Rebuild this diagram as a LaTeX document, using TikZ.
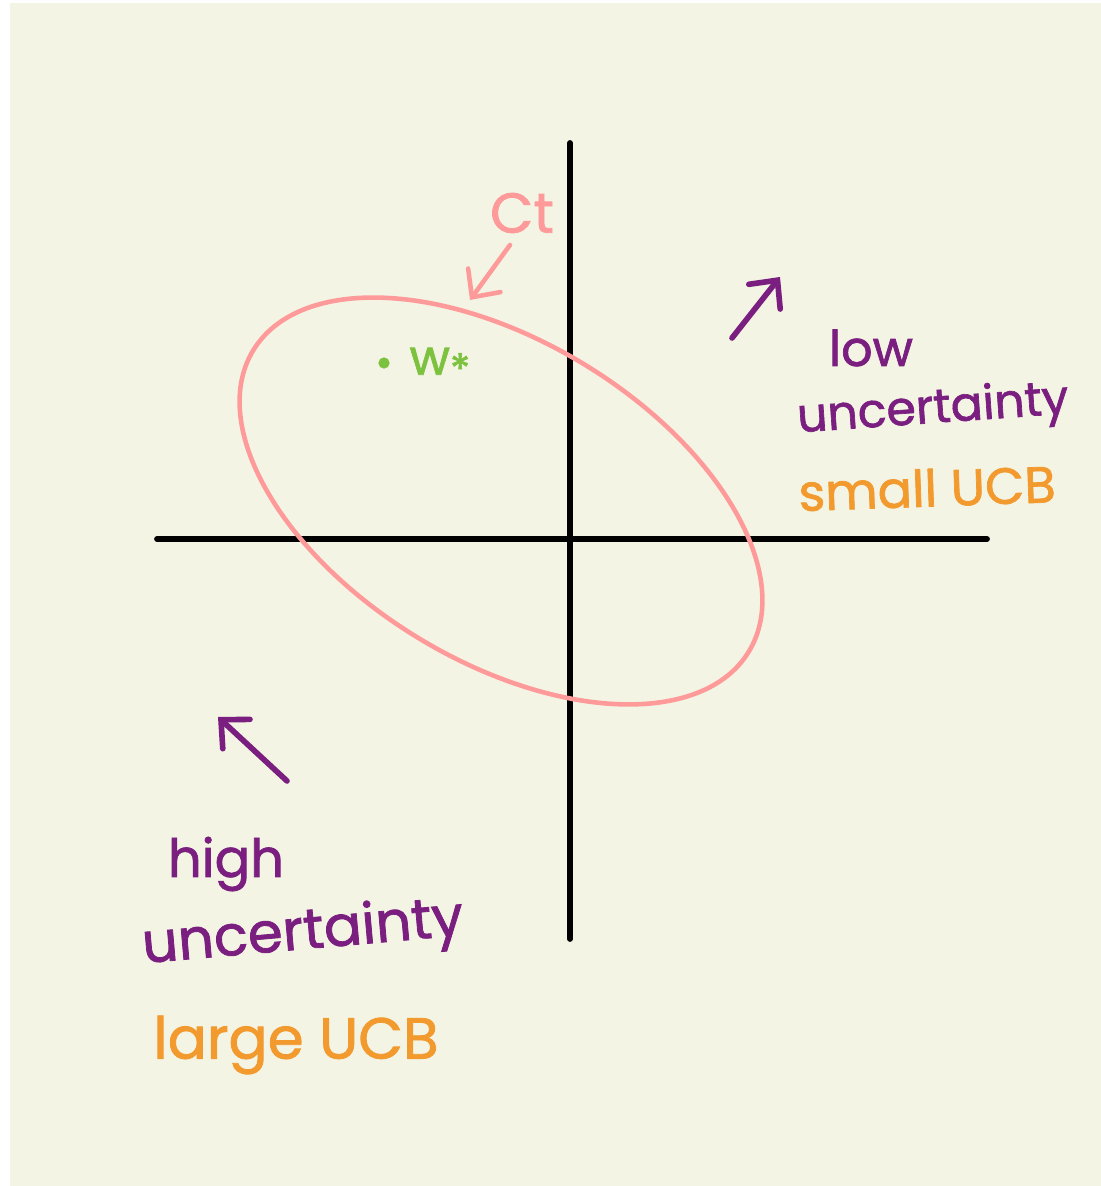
\documentclass[tikz,border=0pt]{standalone}
\usepackage{fontspec}
\setmainfont{Poppins}
\newfontfamily\handfont{Poppins}[FakeBold=1.4]
\usetikzlibrary{arrows.meta}
\definecolor{pcream}{HTML}{F3F4E3}
\definecolor{ppink}{HTML}{FF9A9A}
\definecolor{ppurple}{HTML}{7A1E80}
\definecolor{porange}{HTML}{F29A2E}
\definecolor{pgreen}{HTML}{7DC23F}

\begin{document}
\begin{tikzpicture}[x=0.02cm,y=0.02cm,line cap=round,
  hand/.style={font=\handfont\fontsize{#1}{#1}\selectfont,inner sep=0pt},
  hand/.default=28,
  barb/.style={-{Straight Barb[length=0.42cm,width=0.8cm,line cap=round]}}]
  \useasboundingbox (0,0) rectangle (1101,1186);
  \fill[pcream] (10,0) rectangle (1101,1183);
  % axes
  \coordinate (xl) at (157,647);
  \coordinate (xr) at (987,647);
  \coordinate (yb) at (570,247);
  \coordinate (yt) at (570,1043);
  \draw[black,line width=3.3pt] (xl) -- (xr);
  \draw[black,line width=3.3pt] (yb) -- (yt);
  % confidence set
  \draw[ppink,line width=2.6pt,rotate around={-31.3:(501,685)}]
    (501,685) ellipse [x radius=290,y radius=160];
  \node[hand=32,text=ppink] (ct) at (522,973) {Ct};
  \coordinate (ctfrom) at (510,941);
  \coordinate (ctto) at (470,886);
  \draw[ppink,line width=2.6pt,barb] (ctfrom) -- (ctto);
  \fill[pgreen] (384,823) circle (3.2pt) coordinate (wdot);
  \node[hand=28,text=pgreen] (wstar) at (440,820)
    {w\raisebox{-0.35ex}{\fontsize{24}{24}\selectfont *}};
  % directions
  \coordinate (nefrom) at (732,848);
  \coordinate (neto) at (780,909);
  \coordinate (nwfrom) at (287,405);
  \coordinate (nwto) at (218,469);
  \draw[ppurple,line width=3.2pt,barb] (nefrom) -- (neto);
  \draw[ppurple,line width=3.2pt,barb] (nwfrom) -- (nwto);
  \foreach \nm/\x/\y/\r/\s/\c/\t in {%
    low/871/838/0/28/ppurple/{low},
    uncr/933/775/4/27/ppurple/{uncertainty},
    small/927/698/2/29/porange/{small UCB},
    high/226/322/0/30/ppurple/{high},
    uncl/303/251/5/32/ppurple/{uncertainty},
    large/296/141/0/33/porange/{large UCB}}{
      \node[hand=\s,text=\c,rotate=\r] (\nm) at (\x,\y) {\t};
  }
\end{tikzpicture}
\end{document}
